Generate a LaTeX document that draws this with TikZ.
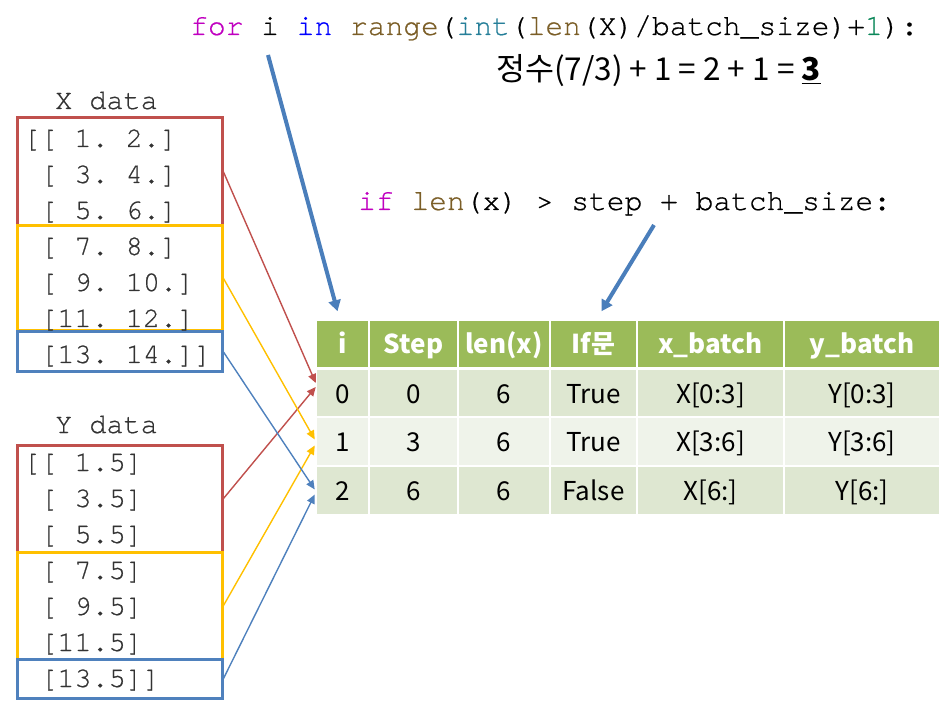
\documentclass[tikz,border=0pt]{standalone}
\usepackage{fontspec}
\setmonofont[FakeBold=0.6]{TeX Gyre Cursor}
\newfontfamily\kr{Noto Sans CJK KR}
\usetikzlibrary{arrows.meta,calc}
\definecolor{kwmag}{HTML}{C000C0}
\definecolor{kwblue}{HTML}{0000FF}
\definecolor{kwfn}{HTML}{7B5E27}
\definecolor{kwint}{HTML}{267F99}
\definecolor{kwnum}{HTML}{098658}
\definecolor{boxred}{HTML}{C0504D}
\definecolor{boxyel}{HTML}{FFC000}
\definecolor{boxblue}{HTML}{4F81BD}
\definecolor{thickblue}{HTML}{4A7EBB}
\definecolor{hdrgreen}{HTML}{9BBB59}
\definecolor{banddark}{HTML}{DEE7D1}
\definecolor{bandlight}{HTML}{EFF3EA}
\definecolor{datagray}{HTML}{333333}
\tikzset{
  code/.style={anchor=base west, inner sep=0pt, font=\ttfamily\fontsize{29.6}{30}\selectfont},
  datatxt/.style={anchor=base west, inner sep=0pt, text=datagray, font=\ttfamily\fontsize{28.5}{28}\selectfont},
  databox/.style={draw, line width=3pt, minimum width=205pt, inner sep=0pt},
  cell/.style={draw=white, line width=2.5pt, inner sep=0pt, minimum height=49pt,
    text height=22pt, text depth=2pt, font=\kr\fontsize{26}{26}\selectfont},
  hcell/.style={cell, fill=hdrgreen, text=white, font=\kr\bfseries\fontsize{26}{26}\selectfont},
  dcell/.style={cell, fill=banddark},
  lcell/.style={cell, fill=bandlight},
  thinarrow/.style={line width=1.4pt, -{Triangle[length=9pt,width=8pt]}},
  thickarrow/.style={line width=4pt, draw=thickblue, -{Triangle[length=11pt,width=12pt]}}
}
\begin{document}
\begin{tikzpicture}[x=1pt,y=-1pt]
\useasboundingbox (0,0) rectangle (945,708);

% code lines
\node[code] (code1) at (190,35) {\textcolor{kwmag}{for} i \textcolor{kwblue}{in} \textcolor{kwfn}{range}(\textcolor{kwint}{int}(\textcolor{kwfn}{len}(X)/batch\_size)+\textcolor{kwnum}{1}):};
\node[anchor=base west, inner sep=0pt, font=\kr\fontsize{31.5}{32}\selectfont] (calc) at (496,81) {정수(7/3) + 1 = 2 + 1 = \underline{\textbf{3}}};
\node[code] (code2) at (358,210) {\textcolor{kwmag}{if} \textcolor{kwfn}{len}(x) > step + batch\_size:};

% X data
\node[datatxt] (xlab) at (55,109) {X data};
\node[databox, draw=boxred, minimum height=108pt] (xr) at (119.5,172) {};
\node[databox, draw=boxyel, minimum height=105pt] (xy) at (119.5,278.5) {};
\node[databox, draw=boxblue, minimum height=40pt] (xb) at (119.5,352) {};
\node[datatxt] (x1) at (23,147) {[[~1.~2.]};
\node[datatxt] (x2) at (23,183) {~[~3.~4.]};
\node[datatxt] (x3) at (23,219) {~[~5.~6.]};
\node[datatxt] (x4) at (23,255) {~[~7.~8.]};
\node[datatxt] (x5) at (23,291) {~[~9.~10.]};
\node[datatxt] (x6) at (23,327) {~[11.~12.]};
\node[datatxt] (x7) at (23,363) {~[13.~14.]]};

% Y data
\node[datatxt] (ylab) at (55,433) {Y data};
\node[databox, draw=boxred, minimum height=107pt] (yr) at (119.5,498.5) {};
\node[databox, draw=boxyel, minimum height=107pt] (yy) at (119.5,605.5) {};
\node[databox, draw=boxblue, minimum height=39pt] (yb) at (119.5,678.5) {};
\node[datatxt] (y1) at (23,471) {[[~1.5]};
\node[datatxt] (y2) at (23,507) {~[~3.5]};
\node[datatxt] (y3) at (23,543) {~[~5.5]};
\node[datatxt] (y4) at (23,579) {~[~7.5]};
\node[datatxt] (y5) at (23,615) {~[~9.5]};
\node[datatxt] (y6) at (23,651) {~[11.5]};
\node[datatxt] (y7) at (23,687) {~[13.5]]};

% table header
\node[hcell, minimum width=53pt]  (h1) at (342.5,344) {i};
\node[hcell, minimum width=89pt]  (h2) at (413.5,344) {Step};
\node[hcell, minimum width=92pt]  (h3) at (504,344) {len(x)};
\node[hcell, minimum width=87pt]  (h4) at (593.5,344) {If문};
\node[hcell, minimum width=147pt] (h5) at (710.5,344) {x\_batch};
\node[hcell, minimum width=156pt] (h6) at (862,344) {y\_batch};
% row 0
\node[dcell, minimum width=53pt]  (a1) at (342.5,393) {0};
\node[dcell, minimum width=89pt]  (a2) at (413.5,393) {0};
\node[dcell, minimum width=92pt]  (a3) at (504,393) {6};
\node[dcell, minimum width=87pt]  (a4) at (593.5,393) {True};
\node[dcell, minimum width=147pt] (a5) at (710.5,393) {X[0:3]};
\node[dcell, minimum width=156pt] (a6) at (862,393) {Y[0:3]};
% row 1
\node[lcell, minimum width=53pt]  (b1) at (342.5,441.5) {1};
\node[lcell, minimum width=89pt]  (b2) at (413.5,441.5) {3};
\node[lcell, minimum width=92pt]  (b3) at (504,441.5) {6};
\node[lcell, minimum width=87pt]  (b4) at (593.5,441.5) {True};
\node[lcell, minimum width=147pt] (b5) at (710.5,441.5) {X[3:6]};
\node[lcell, minimum width=156pt] (b6) at (862,441.5) {Y[3:6]};
% row 2
\node[dcell, minimum width=53pt]  (c1) at (342.5,490.5) {2};
\node[dcell, minimum width=89pt]  (c2) at (413.5,490.5) {6};
\node[dcell, minimum width=92pt]  (c3) at (504,490.5) {6};
\node[dcell, minimum width=87pt]  (c4) at (593.5,490.5) {False};
\node[dcell, minimum width=147pt] (c5) at (710.5,490.5) {X[6:]};
\node[dcell, minimum width=156pt] (c6) at (862,490.5) {Y[6:]};

% thin connectors
\draw[thinarrow, draw=boxred, fill=boxred] (xr.east) -- ($(a1.west)+(1,-10)$);
\draw[thinarrow, draw=boxred, fill=boxred] (yr.east) -- ($(a1.west)+(1,-6)$);
\draw[thinarrow, draw=boxyel, fill=boxyel] (xy.east) -- ($(b1.west)+(0,-2)$);
\draw[thinarrow, draw=boxyel, fill=boxyel] (yy.east) -- ($(b1.west)+(0,4)$);
\draw[thinarrow, draw=boxblue, fill=boxblue] (xb.east) -- ($(c1.west)+(0,-1)$);
\draw[thinarrow, draw=boxblue, fill=boxblue] (yb.east) -- ($(c1.west)+(0,4)$);

% thick arrows
\coordinate (t1s) at (268,55);
\coordinate (t2s) at (654,225);
\draw[thickarrow] (t1s) -- ($(h1.north)+(-5,-7)$);
\draw[thickarrow] (t2s) -- ($(h4.north)+(8,-7)$);
\end{tikzpicture}
\end{document}
